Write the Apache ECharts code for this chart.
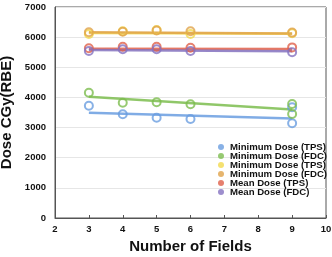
<!DOCTYPE html>
<html>
<head>
<meta charset="utf-8">
<script src="https://cdn.jsdelivr.net/npm/echarts@6/dist/echarts.min.js"></script>
<style>
  html, body { margin: 0; padding: 0; background: #fff; }
  #chart { width: 332px; height: 257px; }
</style>
</head>
<body>
<div id="chart"></div>
<script>
// measured points, x = number of fields
var minTpsPts = [[3, 3726], [4, 3441], [5, 3328], [6, 3285], [9, 3673], [9, 3142]]
var minFdcPts = [[3, 4157], [4, 3826], [5, 3839], [6, 3772], [9, 3782], [9, 3451]]
var minTps2Pts = [[3, 6105], [4, 6194], [5, 6237], [6, 6105], [9, 6127]]
var minFdc2Pts = [[3, 6160], [4, 6180], [5, 6220], [6, 6194], [9, 6150]]
var meanTpsPts = [[3, 5630], [4, 5683], [5, 5683], [6, 5650], [9, 5660]]
var meanFdcPts = [[3, 5540], [4, 5596], [5, 5596], [6, 5540], [9, 5496]]

// fitted trend lines (start at 3, end at 9)
var trendX = [3, 9]
var minTpsFit = [3494, 3300]
var minFdcFit = [4025, 3600]
var minTps2Fit = [6140, 6110]
var minFdc2Fit = [6160, 6120]
var meanTpsFit = [5617, 5610]
var meanFdcFit = [5574, 5530]

var names = ['Minimum Dose (TPS)', 'Minimum Dose (FDC)', 'Minimum Dose (TPS) ', 'Minimum Dose (FDC) ', 'Mean Dose (TPS)', 'Mean Dose (FDC)']
var colors = ['#6a9ee0', '#7dbd4f', '#f2d94e', '#e0a34a', '#e0604a', '#8472c0']
var points = [minTpsPts, minFdcPts, minTps2Pts, minFdc2Pts, meanTpsPts, meanFdcPts]
var fits = [minTpsFit, minFdcFit, minTps2Fit, minFdc2Fit, meanTpsFit, meanFdcFit]

var font = 'Liberation Sans, Arial, sans-serif'
var myChart = echarts.init(document.getElementById('chart'))

var series = []
fits.forEach(function (f, i) {
  series.push({
    type: 'line',
    name: 'fit' + i,
    data: trendX.map(function (x, k) { return [x, f[k]] }),
    showSymbol: false,
    silent: true,
    lineStyle: { color: colors[i], width: 2.5, opacity: 0.85 },
    z: 2
  })
})
points.forEach(function (p, i) {
  series.push({
    type: 'scatter',
    name: names[i],
    data: p,
    symbol: 'circle',
    symbolSize: 8,
    itemStyle: { color: 'rgba(255,255,255,0)', borderColor: colors[i], borderWidth: 2 },
    z: 3
  })
})

var option = {
  animation: false,
  grid: {
    left: 55, right: 6, top: 7, bottom: 39,
    containLabel: false,
    outerBoundsMode: 'none',
    show: true, borderColor: '#555', borderWidth: 1
  },
  legend: {
    data: names.map(function (n, i) {
      return { name: n, itemStyle: { color: colors[i], borderWidth: 0 } }
    }),
    orient: 'vertical',
    right: 0, top: 137,
    icon: 'circle',
    itemWidth: 6, itemHeight: 6,
    itemGap: -1,
    formatter: function (n) { return n.trim() },
    textStyle: { fontFamily: font, fontWeight: 'bold', fontSize: 9.6, color: '#111', padding: [0, 0, 0, 1] }
  },
  xAxis: {
    type: 'value',
    min: 2, max: 10, interval: 1,
    name: 'Number of Fields',
    nameLocation: 'middle',
    nameGap: 20,
    nameTextStyle: { fontFamily: font, fontWeight: 'bold', fontSize: 15, color: '#111' },
    axisLine: { lineStyle: { color: '#555' } },
    axisTick: { inside: true, length: 3, lineStyle: { color: '#555' } },
    axisLabel: { fontFamily: font, fontWeight: 'bold', fontSize: 9.5, color: '#111', margin: 6 },
    splitLine: { show: false }
  },
  yAxis: {
    type: 'value',
    min: 0, max: 7000, interval: 1000,
    name: 'Dose CGy(RBE)',
    nameLocation: 'middle',
    nameGap: 39,
    nameTextStyle: { fontFamily: font, fontWeight: 'bold', fontSize: 15, color: '#111' },
    axisLine: { lineStyle: { color: '#555' } },
    axisTick: { show: false },
    axisLabel: {
      fontFamily: font, fontWeight: 'bold', fontSize: 9.5, color: '#111', margin: 9,
      formatter: function (v) { return String(v) }
    },
    splitLine: { lineStyle: { color: '#e6e6e6' } }
  },
  series: series
}

myChart.setOption(option)
</script>
</body>
</html>
